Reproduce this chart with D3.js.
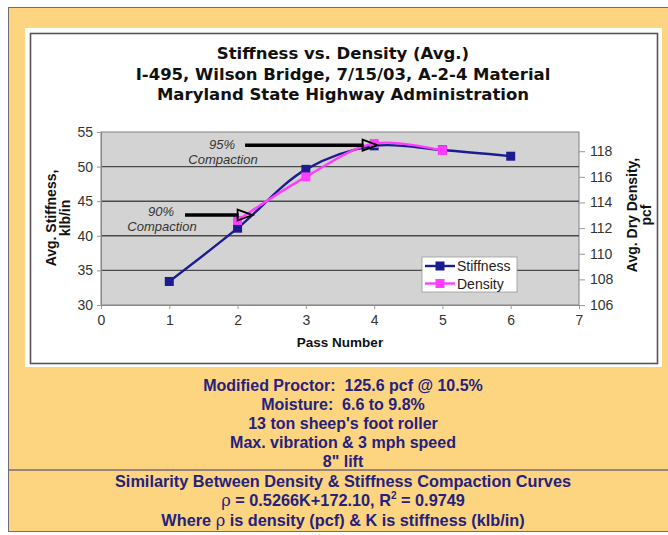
<!DOCTYPE html>
<html><head><meta charset="utf-8">
<script src="https://cdn.jsdelivr.net/npm/d3@7/dist/d3.min.js"></script>
<style>html,body{margin:0;padding:0;background:#fff;}svg{display:block;}text{white-space:pre;}</style>
</head><body>
<script>
// ---- data ----
const passes = [1, 2, 3, 4, 5, 6];
const stiffness = [33.4, 41.1, 49.6, 53.0, 52.4, 51.5];
const densityPasses = [2, 3, 4, 5];
const density = [112.6, 116.0, 118.6, 118.05];
const xTicks = [0, 1, 2, 3, 4, 5, 6, 7];
const leftTicks = [30, 35, 40, 45, 50, 55];
const rightTicks = [106, 108, 110, 112, 114, 116, 118];
const titleLines = ["Stiffness vs. Density (Avg.)", "I-495, Wilson Bridge, 7/15/03, A-2-4 Material", "Maryland State Highway Administration"];
const notesTop = ["Modified Proctor:  125.6 pcf @ 10.5%", "Moisture:  6.6 to 9.8%", "13 ton sheep's foot roller", "Max. vibration & 3 mph speed", "8\" lift"];
const seriesNames = ["Stiffness", "Density"];

const W = 668, H = 535;
const svg = d3.select("body").append("svg").attr("width", W).attr("height", H);

// background frame
svg.append("rect").attr("x", 0).attr("y", 0).attr("width", W).attr("height", H).attr("fill", "#fff");
svg.append("rect").attr("x", 8.5).attr("y", 7.5).attr("width", W).attr("height", 524).attr("fill", "#fdd47f").attr("stroke", "#6e6e6e").attr("stroke-width", 1);
// chart box with white rim
svg.append("rect").attr("x", 25).attr("y", 28).attr("width", 637).attr("height", 339).attr("fill", "#fff");
svg.append("rect").attr("x", 30.5).attr("y", 33.5).attr("width", 627).attr("height", 330).attr("fill", "#fff").attr("stroke", "#555").attr("stroke-width", 1.6);

// title
svg.append("g").selectAll("text").data(titleLines).join("text")
  .attr("x", 343).attr("y", (d, i) => 59 + i * 20.5)
  .attr("text-anchor", "middle").attr("font-family", "DejaVu Sans, Verdana, sans-serif")
  .attr("font-weight", "bold").attr("font-size", 16.5).attr("fill", "#111").text(d => d);

// scales
const x = d3.scaleLinear().domain([0, 7]).range([101, 579]);
const yL = d3.scaleLinear().domain([30, 55]).range([305, 132]);
const yR = d3.scaleLinear().domain([106, 119.5]).range([305, 132]);

// plot area
svg.append("rect").attr("x", x(0)).attr("y", yL(55)).attr("width", x(7) - x(0)).attr("height", yL(30) - yL(55))
  .attr("fill", "#d3d3d3").attr("stroke", "#808080").attr("stroke-width", 1);
svg.append("g").selectAll("line").data(leftTicks.filter(t => t > 30 && t < 55)).join("line")
  .attr("x1", x(0)).attr("x2", x(7)).attr("y1", d => yL(d)).attr("y2", d => yL(d))
  .attr("stroke", "#4a4a4a").attr("stroke-width", 1.4);

// axes
const font = "Liberation Sans, Arial, sans-serif";
const gx = svg.append("g").attr("transform", `translate(0,${yL(30)})`)
  .call(d3.axisBottom(x).tickValues(xTicks).tickFormat(d3.format("d")).tickSize(4).tickPadding(6));
const gl = svg.append("g").attr("transform", `translate(${x(0)},0)`)
  .call(d3.axisLeft(yL).tickValues(leftTicks).tickSize(4).tickPadding(4));
const gr = svg.append("g").attr("transform", `translate(${x(7)},0)`)
  .call(d3.axisRight(yR).tickValues(rightTicks).tickSize(6).tickPadding(5));
gr.select(".domain").remove();
[gx, gl, gr].forEach(g => {
  g.selectAll(".domain").attr("stroke", "#888");
  g.selectAll(".tick line").attr("stroke", "#999");
  g.selectAll("text").attr("font-family", font).attr("font-size", 14).attr("fill", "#333");
});

// axis titles
svg.append("text").attr("x", x(3.5)).attr("y", 347).attr("text-anchor", "middle")
  .attr("font-family", font).attr("font-weight", "bold").attr("font-size", 13.5).attr("fill", "#111").text("Pass Number");
const lt = svg.append("text").attr("transform", "translate(56,218) rotate(-90)").attr("text-anchor", "middle")
  .attr("font-family", font).attr("font-weight", "bold").attr("font-size", 14).attr("fill", "#111");
lt.append("tspan").attr("x", 0).attr("dy", 0).text("Avg. Stiffness,");
lt.append("tspan").attr("x", 0).attr("dy", 13.5).text("klb/in");
const rt = svg.append("text").attr("transform", "translate(637,215) rotate(-90)").attr("text-anchor", "middle")
  .attr("font-family", font).attr("font-weight", "bold").attr("font-size", 14).attr("fill", "#111");
rt.append("tspan").attr("x", 0).attr("dy", 0).text("Avg. Dry Density,");
rt.append("tspan").attr("x", 0).attr("dy", 13.5).text("pcf");

// series
const blue = "#1c1c90", pink = "#ff3cff";
const sData = passes.map((p, i) => [p, stiffness[i]]);
const dData = densityPasses.map((p, i) => [p, density[i]]);
const lineS = d3.line().x(d => x(d[0])).y(d => yL(d[1])).curve(d3.curveCatmullRom.alpha(0.5));
const lineD = d3.line().x(d => x(d[0])).y(d => yR(d[1])).curve(d3.curveCatmullRom.alpha(0.5));
svg.append("path").datum(sData).attr("d", lineS).attr("fill", "none").attr("stroke", blue).attr("stroke-width", 2.4);
svg.append("g").selectAll("rect").data(sData).join("rect")
  .attr("x", d => x(d[0]) - 4.5).attr("y", d => yL(d[1]) - 4.5).attr("width", 9).attr("height", 9).attr("fill", blue);
svg.append("path").datum(dData).attr("d", lineD).attr("fill", "none").attr("stroke", pink).attr("stroke-width", 2.4);
svg.append("g").selectAll("rect").data(dData).join("rect")
  .attr("x", d => x(d[0]) - 4.5).attr("y", d => yR(d[1]) - 4.5).attr("width", 9).attr("height", 9).attr("fill", pink);

// annotations (arrows)
const ann = [
  {label: "95%", x0: 2.11, x1: 4.05, y: 53.1, tx: 222, ty: 149},
  {label: "90%", x0: 1.23, x1: 2.22, y: 43.0, tx: 161, ty: 216}
];
ann.forEach(a => {
  const y = yL(a.y), xs = x(a.x0), xe = x(a.x1);
  svg.append("line").attr("x1", xs).attr("x2", xe - 14).attr("y1", y).attr("y2", y).attr("stroke", "#000").attr("stroke-width", 3.5);
  svg.append("path").attr("d", `M${xe - 15},${y - 5.5}L${xe},${y}L${xe - 15},${y + 5.5}Z`)
    .attr("fill", "none").attr("stroke", "#000").attr("stroke-width", 1.8).attr("stroke-linejoin", "miter");
  svg.append("text").attr("x", a.tx).attr("y", a.ty).attr("text-anchor", "middle").attr("font-family", font)
    .attr("font-style", "italic").attr("font-size", 13).attr("fill", "#333").text(a.label);
  svg.append("text").attr("x", a.tx + 1).attr("y", a.ty + 15).attr("text-anchor", "middle").attr("font-family", font)
    .attr("font-style", "italic").attr("font-size", 13).attr("fill", "#333").text("Compaction");
});

// legend
const lg = svg.append("g").attr("transform", "translate(422,257)");
lg.append("rect").attr("width", 95).attr("height", 35).attr("fill", "#fff").attr("stroke", "#999").attr("stroke-width", 0.8);
[[blue, seriesNames[0]], [pink, seriesNames[1]]].forEach((s, i) => {
  const yy = 9 + i * 17.5;
  lg.append("line").attr("x1", 3).attr("x2", 33).attr("y1", yy).attr("y2", yy).attr("stroke", s[0]).attr("stroke-width", 2.4);
  lg.append("rect").attr("x", 13.5).attr("y", yy - 4.5).attr("width", 9).attr("height", 9).attr("fill", s[0]);
  lg.append("text").attr("x", 35).attr("y", yy + 5).attr("font-family", font).attr("font-size", 14).attr("fill", "#222").text(s[1]);
});

// notes
const navy = "#25217e";
svg.append("g").selectAll("text").data(notesTop).join("text")
  .attr("x", 343).attr("y", (d, i) => 391 + i * 19)
  .attr("text-anchor", "middle").attr("font-family", font).attr("font-weight", "bold").attr("font-size", 16)
  .attr("fill", navy).text(d => d);
svg.append("line").attr("x1", 9).attr("x2", W).attr("y1", 470).attr("y2", 470).attr("stroke", "#7a6a80").attr("stroke-width", 1.5);
const nb = svg.append("g").attr("font-family", font).attr("font-weight", "bold").attr("font-size", 16.3).attr("fill", navy).attr("text-anchor", "middle");
nb.append("text").attr("x", 343).attr("y", 487).text("Similarity Between Density & Stiffness Compaction Curves");
const eq = nb.append("text").attr("x", 343).attr("y", 506);
eq.append("tspan").attr("font-family", "DejaVu Serif, serif").attr("font-weight", "normal").text("ρ");
eq.append("tspan").text(" = 0.5266K+172.10, R");
eq.append("tspan").attr("font-size", 10).attr("dy", -7).text("2");
eq.append("tspan").attr("dy", 7).text(" = 0.9749");
const wh = nb.append("text").attr("x", 343).attr("y", 526);
wh.append("tspan").text("Where ");
wh.append("tspan").attr("font-family", "DejaVu Serif, serif").attr("font-weight", "normal").text("ρ");
wh.append("tspan").text(" is density (pcf) & K is stiffness (klb/in)");
</script>
</body></html>
